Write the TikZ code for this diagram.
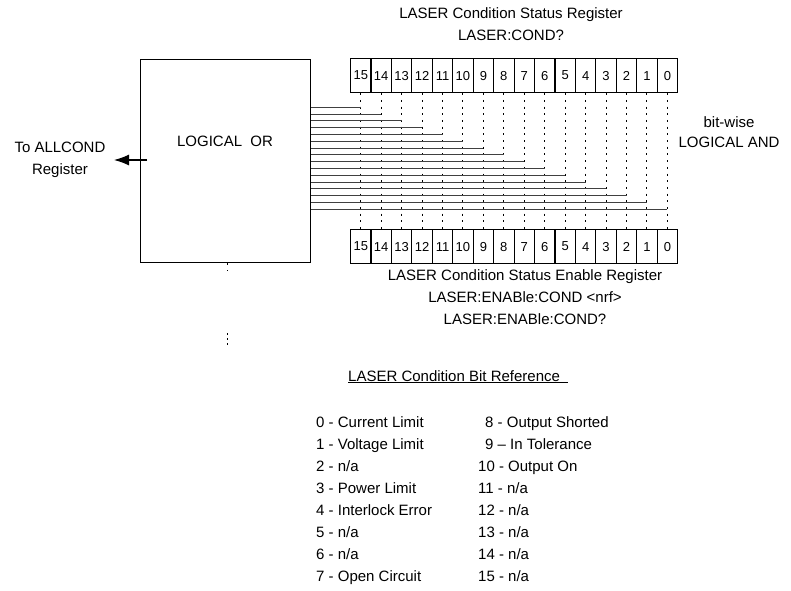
\documentclass[tikz,border=0pt]{standalone}
\usepackage{fontspec}
\setmainfont{Liberation Sans}
\usetikzlibrary{arrows.meta}
\begin{document}
\begin{tikzpicture}[x=1pt,y=-1pt,
  lbl/.style={font=\fontsize{15}{22}\selectfont, inner sep=0pt, align=center},
  item/.style={font=\fontsize{15}{18}\selectfont, inner sep=0pt, anchor=base west},
  cell/.style={draw, line width=1.1pt, minimum width=20.44pt, minimum height=34pt,
               inner sep=0pt, font=\fontsize{13}{15}\selectfont, anchor=north west},
  dotline/.style={line width=1pt, dash pattern=on 2pt off 4.7pt},
  wire/.style={line width=1pt, black!75},
  orbox/.style={draw, line width=1.3pt, minimum width=170pt, minimum height=203pt,
                inner sep=0pt, anchor=north west}]
\useasboundingbox (0,0) rectangle (791,590);

% titles
\node[lbl] (ttl) at (511,24) {LASER Condition Status Register\\LASER:COND?};
\node[lbl] (btl) at (525,297) {LASER Condition Status Enable Register\\LASER:ENABle:COND <nrf>\\LASER:ENABle:COND?};
\node[lbl, font=\fontsize{15}{20}\selectfont] (and) at (729,132) {bit-wise\\LOGICAL AND};

% registers
\foreach \i in {0,...,15}{
  \pgfmathsetmacro{\xx}{350+(15-\i)*20.44}
  \node[cell] (t\i) at (\xx,58) {\i};
  \node[cell] (b\i) at (\xx,229) {\i};
}
\foreach \i in {0,...,15}{
  \draw[dotline] (t\i.south) -- (b\i.north);
}

% OR box
\node[orbox] (or) at (140,59) {};
\node[lbl] (ortxt) at (225,141) {LOGICAL\ \ OR};

% wires from register bits into the OR box
\foreach \i in {0,...,15}{
  \pgfmathsetmacro{\yy}{107.3+\i*6.8}
  \pgfmathtruncatemacro{\bb}{15-\i}
  \coordinate (h\i) at (0,\yy);
  \draw[wire] (or.east |- h\i) -- (t\bb.south |- h\i);
}

% output arrow
\coordinate (arrstart) at (147,160);
\coordinate (arrtip) at (114,160);
\draw[line width=1.2pt, -{Latex[length=15pt,width=11pt]}] (arrstart) -- (arrtip);
\node[lbl] (allc) at (60,160) {To ALLCOND\\Register};

% dotted fragments below the box
\coordinate (d1) at (227,271);
\draw[dotline] (or.south -| d1) -- (d1);
\coordinate (d2a) at (227,333);
\coordinate (d2b) at (227,347);
\draw[line width=1pt, dash pattern=on 2pt off 3pt] (d2a) -- (d2b);

% bit reference
\node[item] (ref) at (348,381) {\underline{LASER Condition Bit Reference\ \ }};
\node[item] (l0) at (316,427.5) {0 - Current Limit};
\node[item] (l1) at (316,449.5) {1 - Voltage Limit};
\node[item] (l2) at (316,471.5) {2 - n/a};
\node[item] (l3) at (316,493.5) {3 - Power Limit};
\node[item] (l4) at (316,515.5) {4 - Interlock Error};
\node[item] (l5) at (316,537.5) {5 - n/a};
\node[item] (l6) at (316,559.5) {6 - n/a};
\node[item] (l7) at (316,581.5) {7 - Open Circuit};
\node[item] (r8) at (485,427.5) {8 - Output Shorted};
\node[item] (r9) at (485,449.5) {9 – In Tolerance};
\node[item] (r10) at (478,471.5) {10 - Output On};
\node[item] (r11) at (478,493.5) {11 - n/a};
\node[item] (r12) at (478,515.5) {12 - n/a};
\node[item] (r13) at (478,537.5) {13 - n/a};
\node[item] (r14) at (478,559.5) {14 - n/a};
\node[item] (r15) at (478,581.5) {15 - n/a};
\end{tikzpicture}
\end{document}
